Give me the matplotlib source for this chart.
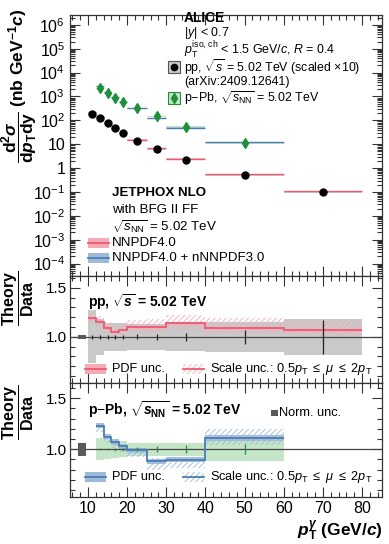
import numpy as np
import matplotlib
matplotlib.use("Agg")
import matplotlib.pyplot as plt
from matplotlib.patches import Rectangle
from matplotlib.lines import Line2D
from matplotlib.ticker import MultipleLocator, LogLocator, FuncFormatter, NullFormatter

# ---------------------- Data ---------------------- #
pp_edges = np.array([10, 12, 14, 16, 18, 20, 25, 30, 40, 60, 80])
pp_xsec = np.array([186, 123, 76, 47, 29, 14, 6.2, 2.2, 0.51, 0.10])  # scaled x10
pp_stat = np.array([0.02, 0.02, 0.02, 0.02, 0.02, 0.025, 0.03, 0.04, 0.07, 0.17])
pp_syst = np.array([0.27, 0.18, 0.145, 0.14, 0.14, 0.135, 0.135, 0.14, 0.15, 0.185])
pp_ratio = np.array([1.19, 1.155, 1.09, 1.05, 1.07, 1.10, 1.10, 1.14, 1.09, 1.065])
pp_pdf = np.array([0.015] * 10)
pp_scale_up = np.array([0.06, 0.06, 0.06, 0.06, 0.06, 0.07, 0.08, 0.08, 0.10, 0.11])
pp_scale_dn = np.array([0.05, 0.05, 0.05, 0.05, 0.05, 0.06, 0.06, 0.07, 0.06, 0.06])
pp_norm = 0.02

ppb_edges = np.array([12, 14, 16, 18, 20, 25, 30, 40, 60])
ppb_xsec = np.array([2200, 1380, 900, 575, 325, 145, 55, 11])
ppb_stat = np.array([0.01, 0.01, 0.015, 0.015, 0.02, 0.03, 0.04, 0.05])
ppb_syst = np.array([0.11, 0.10, 0.09, 0.08, 0.065, 0.065, 0.065, 0.12])
ppb_ratio = np.array([1.23, 1.12, 1.07, 1.03, 0.99, 0.88, 0.895, 1.11])
ppb_pdf = np.array([0.025] * 8)
ppb_scale_up = np.array([0.02, 0.03, 0.02, 0.02, 0.02, 0.03, 0.03, 0.09])
ppb_scale_dn = np.array([0.06, 0.06, 0.06, 0.06, 0.07, 0.08, 0.08, 0.07])
ppb_norm = 0.065
norm_x = 8.5

# ---------------------- Style ---------------------- #
plt.rcParams['font.family'] = ['Liberation Sans', 'DejaVu Sans']
plt.rcParams['mathtext.fontset'] = 'custom'
plt.rcParams['mathtext.rm'] = 'Liberation Sans'
plt.rcParams['mathtext.it'] = 'Liberation Sans:italic'
plt.rcParams['mathtext.bf'] = 'Liberation Sans:bold'
plt.rcParams['mathtext.bfit'] = 'Liberation Sans:italic:bold'
plt.rcParams['hatch.linewidth'] = 0.6

RED = '#ee5a72'
PINK = '#f5aab6'
BLUE = '#4a7db5'
LBLUE = '#9dbad9'
GREEN = '#1f8f3a'
LGREEN = '#c5e5c8'
GRAY = '#c9c9c9'
DGRAY = '#5a5a5a'

W, H = 389, 544
fig = plt.figure(figsize=(W / 100, H / 100), dpi=100)


def fx(px):
    return px / W


def fy(py):
    return 1 - py / H


L, R = 70, 382
ax = fig.add_axes([fx(L), fy(276), fx(R) - fx(L), fy(15) - fy(276)])
ax1 = fig.add_axes([fx(L), fy(383), fx(R) - fx(L), fy(276) - fy(383)])
ax2 = fig.add_axes([fx(L), fy(497), fx(R) - fx(L), fy(383) - fy(497)])

XLIM = (5.4, 85.1)

# ---------------------- Main panel ---------------------- #
pp_c = 0.5 * (pp_edges[1:] + pp_edges[:-1])
pp_w = np.diff(pp_edges)
ppb_c = 0.5 * (ppb_edges[1:] + ppb_edges[:-1])
ppb_w = np.diff(ppb_edges)

pp_th = pp_xsec * pp_ratio
ppb_th = ppb_xsec * ppb_ratio

ax.bar(pp_c, 2 * pp_syst * pp_xsec * 0.35, bottom=pp_xsec * (1 - 0.35 * pp_syst), width=pp_w,
       color=GRAY, lw=0, zorder=1)
ax.bar(ppb_c, 2 * ppb_syst * ppb_xsec * 0.5, bottom=ppb_xsec * (1 - 0.5 * ppb_syst), width=ppb_w,
       color=LGREEN, lw=0, zorder=1)
ax.bar(pp_c, 2 * pp_pdf * pp_th * 2, bottom=pp_th * (1 - 2 * pp_pdf), width=pp_w,
       color=PINK, lw=0, zorder=2, alpha=0.8)
ax.bar(ppb_c, 2 * ppb_pdf * ppb_th, bottom=ppb_th * (1 - ppb_pdf), width=ppb_w,
       color=LBLUE, lw=0, zorder=2, alpha=0.8)
ax.hlines(pp_th, pp_edges[:-1], pp_edges[1:], color=RED, lw=1.0, zorder=3)
ax.hlines(ppb_th, ppb_edges[:-1], ppb_edges[1:], color=BLUE, lw=1.0, zorder=3)
ax.plot(pp_c, pp_xsec, 'o', color='black', ms=5, zorder=5)
ax.plot(ppb_c, ppb_xsec, 'd', color=GREEN, ms=5.5, zorder=5)

ax.set_yscale('log')
ax.set_ylim(3e-5, 2.6e6)
ax.set_xlim(*XLIM)


def log_fmt(v, pos):
    e = int(round(np.log10(v)))
    if e == 0:
        return '1'
    if e == 1:
        return '10'
    return r'$10^{%d}$' % e


ax.yaxis.set_major_locator(LogLocator(base=10, numticks=20))
ax.yaxis.set_minor_locator(LogLocator(base=10, subs=np.arange(2, 10), numticks=20))
ax.yaxis.set_major_formatter(FuncFormatter(log_fmt))
ax.yaxis.set_minor_formatter(NullFormatter())

# ---------------------- Ratio pp ---------------------- #
ax1.axhline(1.0, color='#444444', lw=0.9, zorder=4)
ax1.stairs(1 + pp_syst, pp_edges, baseline=1 - pp_syst, fill=True, color=GRAY, lw=0, zorder=1)
ax1.stairs(pp_ratio + pp_scale_up, pp_edges, baseline=pp_ratio - pp_scale_dn, fill=True,
           facecolor='none', edgecolor=PINK, hatch='//////', lw=0, zorder=2)
ax1.stairs(pp_ratio + pp_pdf, pp_edges, baseline=pp_ratio - pp_pdf, fill=True,
           color=PINK, lw=0, alpha=0.9, zorder=3)
ax1.stairs(pp_ratio, pp_edges, baseline=None, color=RED, lw=1.3, zorder=5)
ax1.errorbar(pp_c, np.ones_like(pp_c), yerr=pp_stat, fmt='none', ecolor='#222222',
             elinewidth=0.9, capsize=0, zorder=6)
ax1.add_patch(Rectangle((norm_x - 1, 1 - pp_norm), 2, 2 * pp_norm, color=DGRAY, lw=0, zorder=6))
ax1.set_ylim(0.53, 1.62)

# ---------------------- Ratio p-Pb ---------------------- #
ax2.axhline(1.0, color='#444444', lw=0.9, zorder=4)
ax2.stairs(1 + ppb_syst, ppb_edges, baseline=1 - ppb_syst, fill=True, color=LGREEN, lw=0, zorder=1)
ax2.stairs(ppb_ratio + ppb_scale_up, ppb_edges, baseline=ppb_ratio - ppb_scale_dn, fill=True,
           facecolor='none', edgecolor=LBLUE, hatch='//////', lw=0, zorder=2)
ax2.stairs(ppb_ratio + ppb_pdf, ppb_edges, baseline=ppb_ratio - ppb_pdf, fill=True,
           color=LBLUE, lw=0, alpha=0.9, zorder=3)
ax2.stairs(ppb_ratio, ppb_edges, baseline=None, color=BLUE, lw=1.3, zorder=5)
ax2.errorbar(ppb_c, np.ones_like(ppb_c), yerr=ppb_stat, fmt='none', ecolor=GREEN,
             elinewidth=0.9, capsize=0, zorder=6)
ax2.add_patch(Rectangle((norm_x - 1, 1 - ppb_norm), 2, 2 * ppb_norm, color=DGRAY, lw=0, zorder=6))
ax2.set_ylim(0.53, 1.65)

# ---------------------- Axes styling ---------------------- #
for a in (ax, ax1, ax2):
    a.set_xlim(*XLIM)
    a.xaxis.set_major_locator(MultipleLocator(10))
    a.xaxis.set_minor_locator(MultipleLocator(2))
    a.tick_params(which='both', direction='in', top=True, right=True, labelsize=11.5,
                  width=0.8, color='#333333')
    a.tick_params(which='major', length=7)
    a.tick_params(which='minor', length=3.5)
    for s in a.spines.values():
        s.set_linewidth(0.9)
        s.set_color('#333333')
for a in (ax1, ax2):
    a.yaxis.set_major_locator(MultipleLocator(0.5))
    a.yaxis.set_minor_locator(MultipleLocator(0.1))
    a.yaxis.set_major_formatter(FuncFormatter(lambda v, p: '%.1f' % v))
    a.tick_params(axis='y', pad=2, labelsize=11)
ax.tick_params(labelbottom=False)
ax1.tick_params(labelbottom=False)
ax2.tick_params(axis='x', pad=3)

# ---------------------- Texts ---------------------- #
TS = 8.9
fig.text(fx(184), fy(18), 'ALICE', fontsize=10, fontweight='bold', va='center')
fig.text(fx(184), fy(33), r'$|y|$ < 0.7', fontsize=TS, va='center')
fig.text(fx(184), fy(49.5), r'$p_{\rm T}^{\rm iso,\,ch}$ < 1.5 GeV/$c$, $R$ = 0.4', fontsize=TS, va='center')
fig.text(fx(184), fy(67), r'pp, $\sqrt{s}$ = 5.02 TeV (scaled $\times$10)', fontsize=TS, va='center')
fig.text(fx(184), fy(82), '(arXiv:2409.12641)', fontsize=TS, va='center')
fig.text(fx(184), fy(98), r'p$-$Pb, $\sqrt{s_{\rm NN}}$ = 5.02 TeV', fontsize=TS, va='center')

# marker keys
fig.add_artist(Rectangle((fx(168), fy(73)), fx(12), fy(61) - fy(73), transform=fig.transFigure,
                         facecolor=GRAY, edgecolor='#555555', lw=0.8))
fig.add_artist(Line2D([fx(174)], [fy(67)], marker='o', color='black', ms=4.5,
                      transform=fig.transFigure))
fig.add_artist(Rectangle((fx(168), fy(104)), fx(12), fy(92) - fy(104), transform=fig.transFigure,
                         facecolor=LGREEN, edgecolor=GREEN, lw=0.8))
fig.add_artist(Line2D([fx(174)], [fy(98)], marker='d', color=GREEN, ms=5,
                      transform=fig.transFigure))

LS = 9.6
RS = 9.2
fig.text(fx(112), fy(193), 'JETPHOX NLO', fontsize=LS, fontweight='bold', va='center')
fig.text(fx(112), fy(210), 'with BFG II FF', fontsize=LS, va='center')
fig.text(fx(112), fy(227), r'$\sqrt{s_{\rm NN}}$ = 5.02 TeV', fontsize=LS, va='center')


def band_key(x, y, face, line, hatch=None):
    if hatch:
        fig.add_artist(Rectangle((fx(x), fy(y + 5)), fx(21), fy(y - 5) - fy(y + 5),
                                 transform=fig.transFigure, facecolor='none', edgecolor=face,
                                 hatch=hatch, lw=0))
    else:
        fig.add_artist(Rectangle((fx(x), fy(y + 5)), fx(21), fy(y - 5) - fy(y + 5),
                                 transform=fig.transFigure, facecolor=face, lw=0))
    fig.add_artist(Line2D([fx(x), fx(x + 21)], [fy(y), fy(y)], color=line, lw=1.3,
                          transform=fig.transFigure))


band_key(88, 243, PINK, RED)
fig.text(fx(112), fy(243), 'NNPDF4.0', fontsize=LS, va='center')
band_key(88, 258, LBLUE, BLUE)
fig.text(fx(112), fy(258), 'NNPDF4.0 + nNNPDF3.0', fontsize=LS, va='center')

fig.text(fx(88), fy(302), r'pp, $\sqrt{\mathbfit{s}}$ = 5.02 TeV', fontsize=10,
         fontweight='bold', va='center')
band_key(85, 369, PINK, RED)
fig.text(fx(112), fy(369), 'PDF unc.', fontsize=RS, va='center')
band_key(183, 369, PINK, RED, hatch='//////')
fig.text(fx(210), fy(369), r'Scale unc.: 0.5$p_{\rm T}$ $\leq$ $\mu$ $\leq$ 2$p_{\rm T}$',
         fontsize=RS, va='center')

fig.text(fx(88), fy(410), r'p$-$Pb, $\sqrt{\mathbfit{s}_{\mathbf{NN}}}$ = 5.02 TeV', fontsize=10,
         fontweight='bold', va='center')
fig.add_artist(Rectangle((fx(271), fy(416)), fx(7), fy(410) - fy(416), transform=fig.transFigure,
                         facecolor=DGRAY, lw=0))
fig.text(fx(279), fy(413), 'Norm. unc.', fontsize=RS, va='center')
band_key(85, 477, LBLUE, BLUE)
fig.text(fx(112), fy(477), 'PDF unc.', fontsize=RS, va='center')
band_key(183, 477, LBLUE, BLUE, hatch='//////')
fig.text(fx(210), fy(477), r'Scale unc.: 0.5$p_{\rm T}$ $\leq$ $\mu$ $\leq$ 2$p_{\rm T}$',
         fontsize=RS, va='center')

# axis titles
fig.text(fx(20), fy(86),
         r'$\dfrac{\mathbf{d}^{\mathbf{2}}\mathbfit{\sigma}}{\mathbf{d}\mathbfit{p}_{\mathbf{T}}\mathbf{dy}}$'
         r' (nb GeV$^{\mathbf{-1}}$$\mathbfit{c}$)',
         rotation=90, fontsize=12.5, fontweight='bold', ha='center', va='center')
fig.text(fx(18), fy(298), r'$\dfrac{\mathbf{Theory}}{\mathbf{Data}}$', rotation=90, fontsize=11.5,
         ha='center', va='center')
fig.text(fx(18), fy(412), r'$\dfrac{\mathbf{Theory}}{\mathbf{Data}}$', rotation=90, fontsize=11.5,
         ha='center', va='center')
fig.text(fx(383), fy(531), r'$\mathbfit{p}_{\mathbf{T}}^{\mathbfit{\gamma}}$ (GeV/$\mathbfit{c}$)',
         fontsize=12.5, fontweight='bold', ha='right', va='center')

fig.savefig('out.png', dpi=100)
